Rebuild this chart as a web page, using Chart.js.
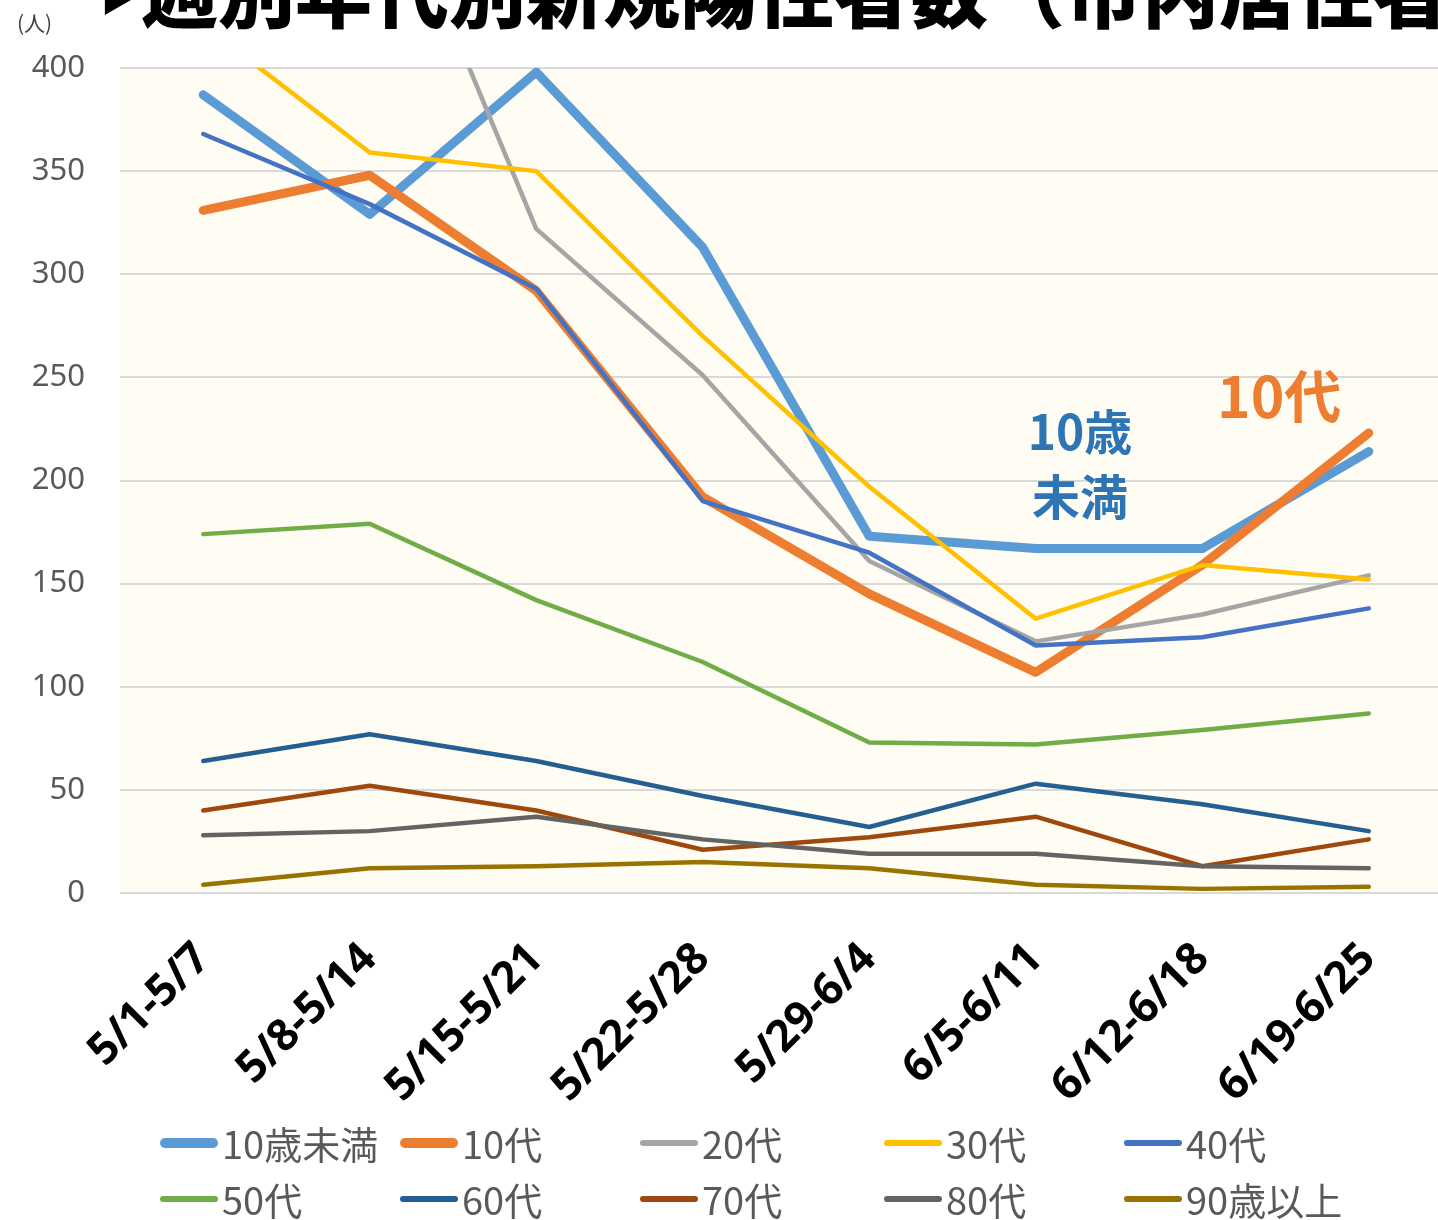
<!DOCTYPE html>
<html><head><meta charset="utf-8">
<script src="https://cdn.jsdelivr.net/npm/chart.js@4"></script>
<style>
html,body{margin:0;padding:0;background:#fff;}
body{width:1438px;height:1220px;overflow:hidden;position:relative;}
#wrap{position:absolute;left:0;top:0;width:1452px;height:1120px;}
#title{position:absolute;left:141px;top:-50px;font-family:"Noto Sans CJK JP",sans-serif;font-weight:900;font-size:77px;line-height:77px;color:#000;white-space:nowrap;}
#tri{position:absolute;left:101px;top:-18px;font-family:"Noto Sans CJK JP",sans-serif;font-size:32px;line-height:32px;color:#000;white-space:nowrap;}
#unit{position:absolute;left:17px;top:11px;font-family:"Noto Sans CJK JP",sans-serif;font-size:21px;line-height:22px;color:#404040;}
.ann{position:absolute;font-family:"Noto Sans CJK JP",sans-serif;font-weight:700;text-align:center;white-space:nowrap;}
#ann1{left:1020px;top:397px;width:120px;font-size:48px;line-height:65px;color:#2E75B6;}
#ann2{left:1217px;top:363px;font-size:57px;line-height:60px;color:#ED7D31;}
#legend{position:absolute;left:0;top:0;width:1438px;height:1220px;pointer-events:none;}
.li{position:absolute;display:flex;align-items:center;height:50px;font-family:"Noto Sans CJK JP",sans-serif;font-size:38px;line-height:50px;color:#595959;white-space:nowrap;}
.li span.ln{display:inline-block;width:58px;margin-right:4px;border-radius:6px;}
</style></head>
<body>
<div id="wrap"><canvas id="c" width="1452" height="1120"></canvas></div>
<div id="tri">▶</div>
<div id="title">週別年代別新規陽性者数（市内居住者）</div>
<div id="unit">(人)</div>
<div class="ann" id="ann1">10歳<br>未満</div>
<div class="ann" id="ann2">10代</div>
<div id="legend"></div>
<script>
const categories = ["5/1-5/7","5/8-5/14","5/15-5/21","5/22-5/28","5/29-6/4","6/5-6/11","6/12-6/18","6/19-6/25"];
const seriesNames = ["10歳未満","10代","20代","30代","40代","50代","60代","70代","80代","90歳以上"];
const under10 = [387, 329, 398, 313, 173, 167, 167, 214];
const teens   = [331, 348, 292, 192, 145, 107, 159, 223];
const age20s  = [470, 516, 322, 251, 161, 122, 135, 154];
const age30s  = [421, 359, 350, 270, 197, 133, 159, 152];
const age40s  = [368, 334, 293, 190, 165, 120, 124, 138];
const age50s  = [174, 179, 142, 112, 73, 72, 79, 87];
const age60s  = [64, 77, 64, 47, 32, 53, 43, 30];
const age70s  = [40, 52, 40, 21, 27, 37, 13, 26];
const age80s  = [28, 30, 37, 26, 19, 19, 13, 12];
const over90  = [4, 12, 13, 15, 12, 4, 2, 3];
const yTicks = [0, 50, 100, 150, 200, 250, 300, 350, 400];

const seriesValues = [under10, teens, age20s, age30s, age40s, age50s, age60s, age70s, age80s, over90];
const colors = ["#5B9BD5","#ED7D31","#A5A5A5","#FFC000","#4472C4","#70AD47","#255E91","#9E480E","#636363","#997300"];
const widths = [9,9,4.5,4.5,4.5,4.5,4.5,4.5,4.5,4.5];

const datasets = seriesNames.map((n,i)=>({
  label:n, data:seriesValues[i], borderColor:colors[i], backgroundColor:colors[i],
  borderWidth:widths[i], pointRadius:0, pointHoverRadius:0, tension:0, fill:false,
  borderCapStyle:'round', borderJoinStyle:'round', clip:0, order:seriesNames.length-i
}));

const bgPlugin = {id:'bg', beforeDraw(c){const {ctx,chartArea:a}=c; ctx.save(); ctx.fillStyle='#FEFCF3'; ctx.fillRect(a.left,a.top,a.right-a.left,a.bottom-a.top); ctx.restore();}};

new Chart(document.getElementById('c'), {
  type:'line',
  data:{labels:categories, datasets},
  options:{
    responsive:false, animation:false, devicePixelRatio:1,
    layout:{padding:{top:68,left:0,right:0,bottom:0}},
    plugins:{legend:{display:false}, tooltip:{enabled:false}, title:{display:false}},
    scales:{
      x:{type:'category', offset:true,
        grid:{display:false, drawTicks:false}, border:{display:false},
        ticks:{autoSkip:false, minRotation:45, maxRotation:45, padding:40, color:'#000',
          font:{family:'"Noto Sans", sans-serif', size:44, weight:'bold'}},
        afterFit(s){s.height=227;}
      },
      y:{min:0,max:400,
        afterBuildTicks(s){s.ticks=yTicks.map(v=>({value:v}));},
        grid:{color:'#D9D9D9', lineWidth:2, drawTicks:false}, border:{display:false},
        ticks:{padding:35, color:'#595959', font:{family:'"Noto Sans", sans-serif', size:31}},
        afterFit(s){s.width=120;}
      }
    }
  },
  plugins:[bgPlugin]
});

const lg = document.getElementById('legend');
const colX = [160, 400, 640, 884, 1124];
const rowY = [1118, 1174];
seriesNames.forEach((n,i)=>{
  const d=document.createElement('div'); d.className='li';
  d.style.left=colX[i%5]+'px'; d.style.top=rowY[Math.floor(i/5)]+'px';
  const s=document.createElement('span'); s.className='ln';
  s.style.height=(widths[i]>5?10:6)+'px'; s.style.background=colors[i];
  d.appendChild(s); d.appendChild(document.createTextNode(n)); lg.appendChild(d);
});
</script>
</body></html>
